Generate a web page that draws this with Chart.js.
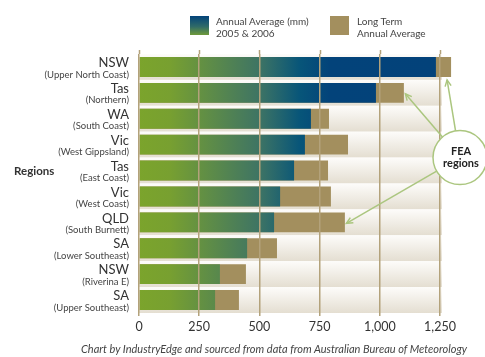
<!DOCTYPE html>
<html>
<head>
<meta charset="utf-8">
<script src="https://cdn.jsdelivr.net/npm/chart.js@4"></script>
<style>
    html, body { margin: 0; padding: 0; background: #fff; }
    #wrap { position: relative; width: 485px; height: 357px; font-family: Lato, 'Open Sans', sans-serif; }
    #chart { position: absolute; left: 0; top: 0; }
    .legend-box { position: absolute; width: 19px; height: 19px; }
    .legend-text { position: absolute; font-size: 10px; line-height: 12px; color: #444; }
    #axisTitle { position: absolute; left: 14px; top: 164px; font-size: 11.5px; font-weight: bold; color: #333; }
    #source { position: absolute; left: 0; width: 548px; top: 342px; text-align: center; font-size: 11px; font-style: italic; color: #444; }
</style>
</head>
<body>
<div id="wrap">
    <canvas id="chart" width="485" height="357"></canvas>
    <div class="legend-box" style="left:190px; top:16px; background:linear-gradient(to bottom,#03437a,#2f6a68 55%,#6f9a3a);"></div>
    <div class="legend-text" style="left:216px; top:15px;">Annual Average (mm)<br>2005 &amp; 2006</div>
    <div class="legend-box" style="left:330px; top:16px; background:#a38f5e;"></div>
    <div class="legend-text" style="left:357px; top:15px;">Long Term<br>Annual Average</div>
    <div id="axisTitle">Regions</div>
    <div id="source">Chart by IndustryEdge and sourced from data from Australian Bureau of Meteorology</div>
</div>
<script>
// ─── Data ─────────────────────────────────────────────────
const states  = ['NSW', 'Tas', 'WA', 'Vic', 'Tas', 'Vic', 'QLD', 'SA', 'NSW', 'SA'];
const regions = ['(Upper North Coast)', '(Northern)', '(South Coast)', '(West Gippsland)', '(East Coast)',
                 '(West Coast)', '(South Burnett)', '(Lower Southeast)', '(Riverina E)', '(Upper Southeast)'];
const annual2005_2006 = [1233, 984, 714, 689, 644, 586, 561, 449, 336, 316];
const longTermAverage = [1296, 1100, 789, 868, 785, 797, 855, 573, 444, 415];
const xTicks = [0, 250, 500, 750, 1000, 1250];
const feaRegions = [0, 1, 6];   // rows pointed at by the callout

const TAN  = '#a38f5e';
const GRID = '#b3a27b';

// ─── Gradient for the 2005/06 bars (fixed across the plot) ─
function annualFill(ctx) {
    const area = ctx.chart.chartArea;
    if (!area) return '#3e7464';
    const g = ctx.chart.ctx.createLinearGradient(area.left, 0, area.right, 0);
    g.addColorStop(0,     '#7ba42c');
    g.addColorStop(0.10,  '#78a030');
    g.addColorStop(0.40,  '#3e7464');
    g.addColorStop(0.535, '#075579');
    g.addColorStop(0.635, '#03437a');
    g.addColorStop(1,     '#03427a');
    return g;
}

// ─── Plugins ──────────────────────────────────────────────
const rowBands = {
    id: 'rowBands',
    beforeDatasetsDraw(chart) {
        const { ctx, chartArea: a, scales: { y } } = chart;
        const h = (a.bottom - a.top) / states.length;
        ctx.save();
        states.forEach((_, i) => {
            const top = y.getPixelForValue(i) - h / 2;
            const g = ctx.createLinearGradient(0, top, 0, top + h);
            g.addColorStop(0, '#fdfcfa');
            g.addColorStop(1, '#e4ded1');
            ctx.fillStyle = g;
            ctx.fillRect(a.left, top, a.right - a.left + 2, h);
        });
        // little tick stubs above the plot
        ctx.strokeStyle = GRID;
        ctx.lineWidth = 1.5;
        xTicks.forEach(v => {
            const x = Math.round(chart.scales.x.getPixelForValue(v)) + 0.5;
            ctx.beginPath();
            ctx.moveTo(x, a.top - 4);
            ctx.lineTo(x, a.top);
            ctx.stroke();
        });
        ctx.restore();
    }
};

const rowLabels = {
    id: 'rowLabels',
    afterDraw(chart) {
        const { ctx, chartArea: a, scales: { y } } = chart;
        ctx.save();
        ctx.textAlign = 'right';
        ctx.textBaseline = 'middle';
        states.forEach((s, i) => {
            const cy = y.getPixelForValue(i);
            ctx.fillStyle = '#333';
            ctx.font = "13px Lato, 'Open Sans', sans-serif";
            ctx.fillText(s, a.left - 10, cy - 4);
            ctx.fillStyle = '#444';
            ctx.font = "9.5px Lato, 'Open Sans', sans-serif";
            ctx.fillText(regions[i], a.left - 10, cy + 7.5);
        });
        ctx.restore();
    }
};

const feaCallout = {
    id: 'feaCallout',
    afterDraw(chart) {
        const { ctx, chartArea: a, scales: { x, y } } = chart;
        const h = (a.bottom - a.top) / states.length;
        const cx = a.right + 20, cy = y.getPixelForValue(3.5), r = 27;
        const tips = feaRegions.map((i, k) => {
            const end = x.getPixelForValue(longTermAverage[i]);
            const mid = y.getPixelForValue(i);
            return k === 0 ? [end - 4, mid + h * 0.5 - 0] : [end + 1.5, mid + 1];
        });
        ctx.save();
        ctx.strokeStyle = '#abc67f';
        ctx.lineWidth = 1.5;
        tips.forEach(([tx, ty]) => {
            const dx = tx - cx, dy = ty - cy, len = Math.hypot(dx, dy);
            const sx = cx + dx / len * r, sy = cy + dy / len * r;
            ctx.beginPath();
            ctx.moveTo(sx, sy);
            ctx.lineTo(tx, ty);
            ctx.stroke();
            const ang = Math.atan2(ty - sy, tx - sx);
            ctx.beginPath();
            ctx.moveTo(tx - 7 * Math.cos(ang - 0.45), ty - 7 * Math.sin(ang - 0.45));
            ctx.lineTo(tx, ty);
            ctx.lineTo(tx - 7 * Math.cos(ang + 0.45), ty - 7 * Math.sin(ang + 0.45));
            ctx.stroke();
        });
        ctx.beginPath();
        ctx.arc(cx, cy, r, 0, Math.PI * 2);
        ctx.fillStyle = '#fff';
        ctx.fill();
        ctx.stroke();
        ctx.fillStyle = '#222';
        ctx.font = "bold 11px Lato, 'Open Sans', sans-serif";
        ctx.textAlign = 'center';
        ctx.textBaseline = 'middle';
        ctx.fillText('FEA', cx + 1, cy - 6);
        ctx.fillText('regions', cx + 1, cy + 6);
        ctx.restore();
    }
};

// ─── Chart ────────────────────────────────────────────────
new Chart(document.getElementById('chart'), {
    type: 'bar',
    data: {
        labels: states,
        datasets: [
            {
                label: 'Annual Average (mm) 2005 & 2006',
                data: annual2005_2006,
                backgroundColor: annualFill,
                grouped: false,
                barPercentage: 0.77,
                categoryPercentage: 1,
                clip: false,
            },
            {
                label: 'Long Term Annual Average',
                data: longTermAverage,
                backgroundColor: TAN,
                grouped: false,
                barPercentage: 0.77,
                categoryPercentage: 1,
                clip: false,
            }
        ]
    },
    options: {
        indexAxis: 'y',
        responsive: false,
        animation: false,
        layout: { padding: { top: 54, right: 45, bottom: 20, left: 0 } },
        plugins: { legend: { display: false }, tooltip: { enabled: false } },
        scales: {
            x: {
                min: 0,
                max: 1250,
                afterBuildTicks: s => { s.ticks = xTicks.map(v => ({ value: v })); },
                grid: { color: GRID, lineWidth: 1.5, z: 1, drawTicks: true, tickLength: 3 },
                border: { display: false },
                ticks: {
                    color: '#333',
                    padding: 3,
                    font: { family: "Lato, 'Open Sans', sans-serif", size: 12.5 },
                    callback: v => v.toLocaleString('en-US'),
                }
            },
            y: {
                grid: { display: false },
                border: { display: false },
                ticks: { display: false },
                afterFit: s => { s.width = 139; },
            }
        }
    },
    plugins: [rowBands, rowLabels, feaCallout]
});
</script>
</body>
</html>
